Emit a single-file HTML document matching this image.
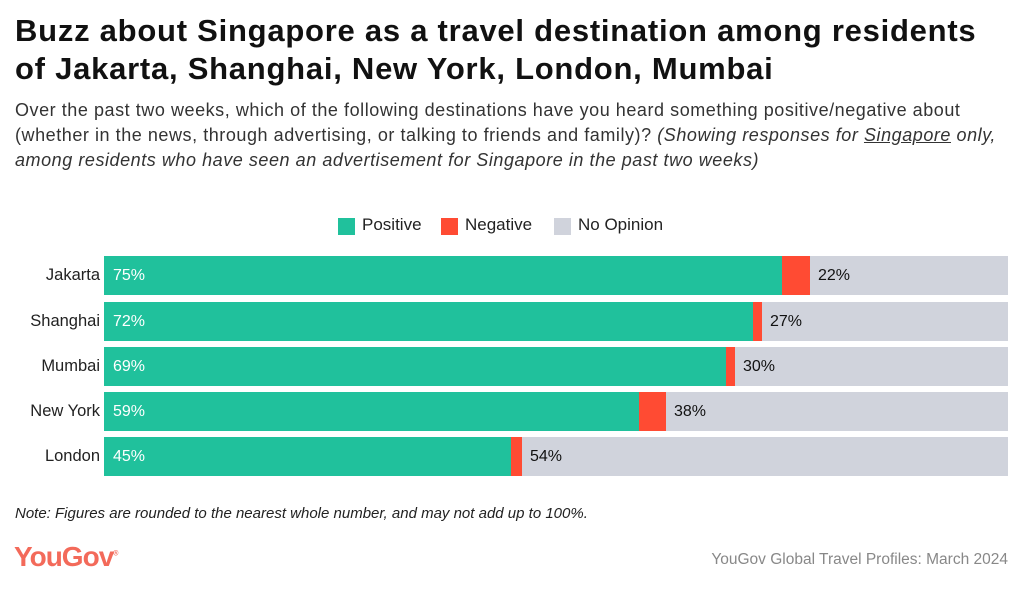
<!DOCTYPE html>
<html><head><style>
body{margin:0;width:1024px;height:591px;background:#fff;font-family:"Liberation Sans",sans-serif;color:#111;position:relative;overflow:hidden}
.t{position:absolute;left:15px;top:12px;font-size:31px;font-weight:bold;line-height:38px;letter-spacing:0.75px;white-space:nowrap}
.s{position:absolute;left:15px;top:98px;font-size:18px;line-height:25px;color:#333;width:1005px;letter-spacing:0.55px}
.leg{position:absolute;top:215px;font-size:17px;color:#222}
.sw{position:absolute;top:218px;width:17px;height:17px}
.lab{position:absolute;right:924px;font-size:16.5px;color:#222;text-align:right}
.bar{position:absolute;height:39px}
.v{position:absolute;font-size:16px;line-height:39px}
</style></head><body>
<div class="t">Buzz about Singapore as a travel destination among residents<br>of Jakarta, Shanghai, New York, London, Mumbai</div>
<div class="s">Over the past two weeks, which of the following destinations have you heard something positive/negative about (whether in the news, through advertising, or talking to friends and family)? <i>(Showing responses for <u>Singapore</u> only, among residents who have seen an advertisement for Singapore in the past two weeks)</i></div>
<div class="sw" style="left:338px;background:#20c19c"></div><div class="leg" style="left:362px">Positive</div>
<div class="sw" style="left:441px;background:#ff4b33"></div><div class="leg" style="left:465px">Negative</div>
<div class="sw" style="left:554px;background:#d0d3dc"></div><div class="leg" style="left:578px">No Opinion</div>

<div class="bar" style="left:104px;top:256px;width:904px;background:#d0d3dc"></div>
<div class="bar" style="left:104px;top:256px;width:678px;background:#20c19c"></div>
<div class="bar" style="left:782px;top:256px;width:28px;background:#ff4b33"></div>
<div class="lab" style="top:266px">Jakarta</div><div class="v" style="left:113px;top:256px;color:#fff">75%</div><div class="v" style="left:818px;top:256px">22%</div>

<div class="bar" style="left:104px;top:302px;width:904px;background:#d0d3dc"></div>
<div class="bar" style="left:104px;top:302px;width:649px;background:#20c19c"></div>
<div class="bar" style="left:753px;top:302px;width:9px;background:#ff4b33"></div>
<div class="lab" style="top:312px">Shanghai</div><div class="v" style="left:113px;top:302px;color:#fff">72%</div><div class="v" style="left:770px;top:302px">27%</div>

<div class="bar" style="left:104px;top:347px;width:904px;background:#d0d3dc"></div>
<div class="bar" style="left:104px;top:347px;width:622px;background:#20c19c"></div>
<div class="bar" style="left:726px;top:347px;width:9px;background:#ff4b33"></div>
<div class="lab" style="top:357px">Mumbai</div><div class="v" style="left:113px;top:347px;color:#fff">69%</div><div class="v" style="left:743px;top:347px">30%</div>

<div class="bar" style="left:104px;top:392px;width:904px;background:#d0d3dc"></div>
<div class="bar" style="left:104px;top:392px;width:535px;background:#20c19c"></div>
<div class="bar" style="left:639px;top:392px;width:27px;background:#ff4b33"></div>
<div class="lab" style="top:402px">New York</div><div class="v" style="left:113px;top:392px;color:#fff">59%</div><div class="v" style="left:674px;top:392px">38%</div>

<div class="bar" style="left:104px;top:437px;width:904px;background:#d0d3dc"></div>
<div class="bar" style="left:104px;top:437px;width:407px;background:#20c19c"></div>
<div class="bar" style="left:511px;top:437px;width:11px;background:#ff4b33"></div>
<div class="lab" style="top:447px">London</div><div class="v" style="left:113px;top:437px;color:#fff">45%</div><div class="v" style="left:530px;top:437px">54%</div>

<div style="position:absolute;left:15px;top:505px;font-size:15px;font-style:italic;color:#222">Note: Figures are rounded to the nearest whole number, and may not add up to 100%.</div>
<div style="position:absolute;left:14px;top:541px;font-size:28px;font-weight:bold;color:#f36a5a;letter-spacing:-1px">YouGov<sup style="font-size:7px">®</sup></div>
<div style="position:absolute;right:16px;top:551px;font-size:15.5px;color:#888">YouGov Global Travel Profiles: March 2024</div>
</body></html>
